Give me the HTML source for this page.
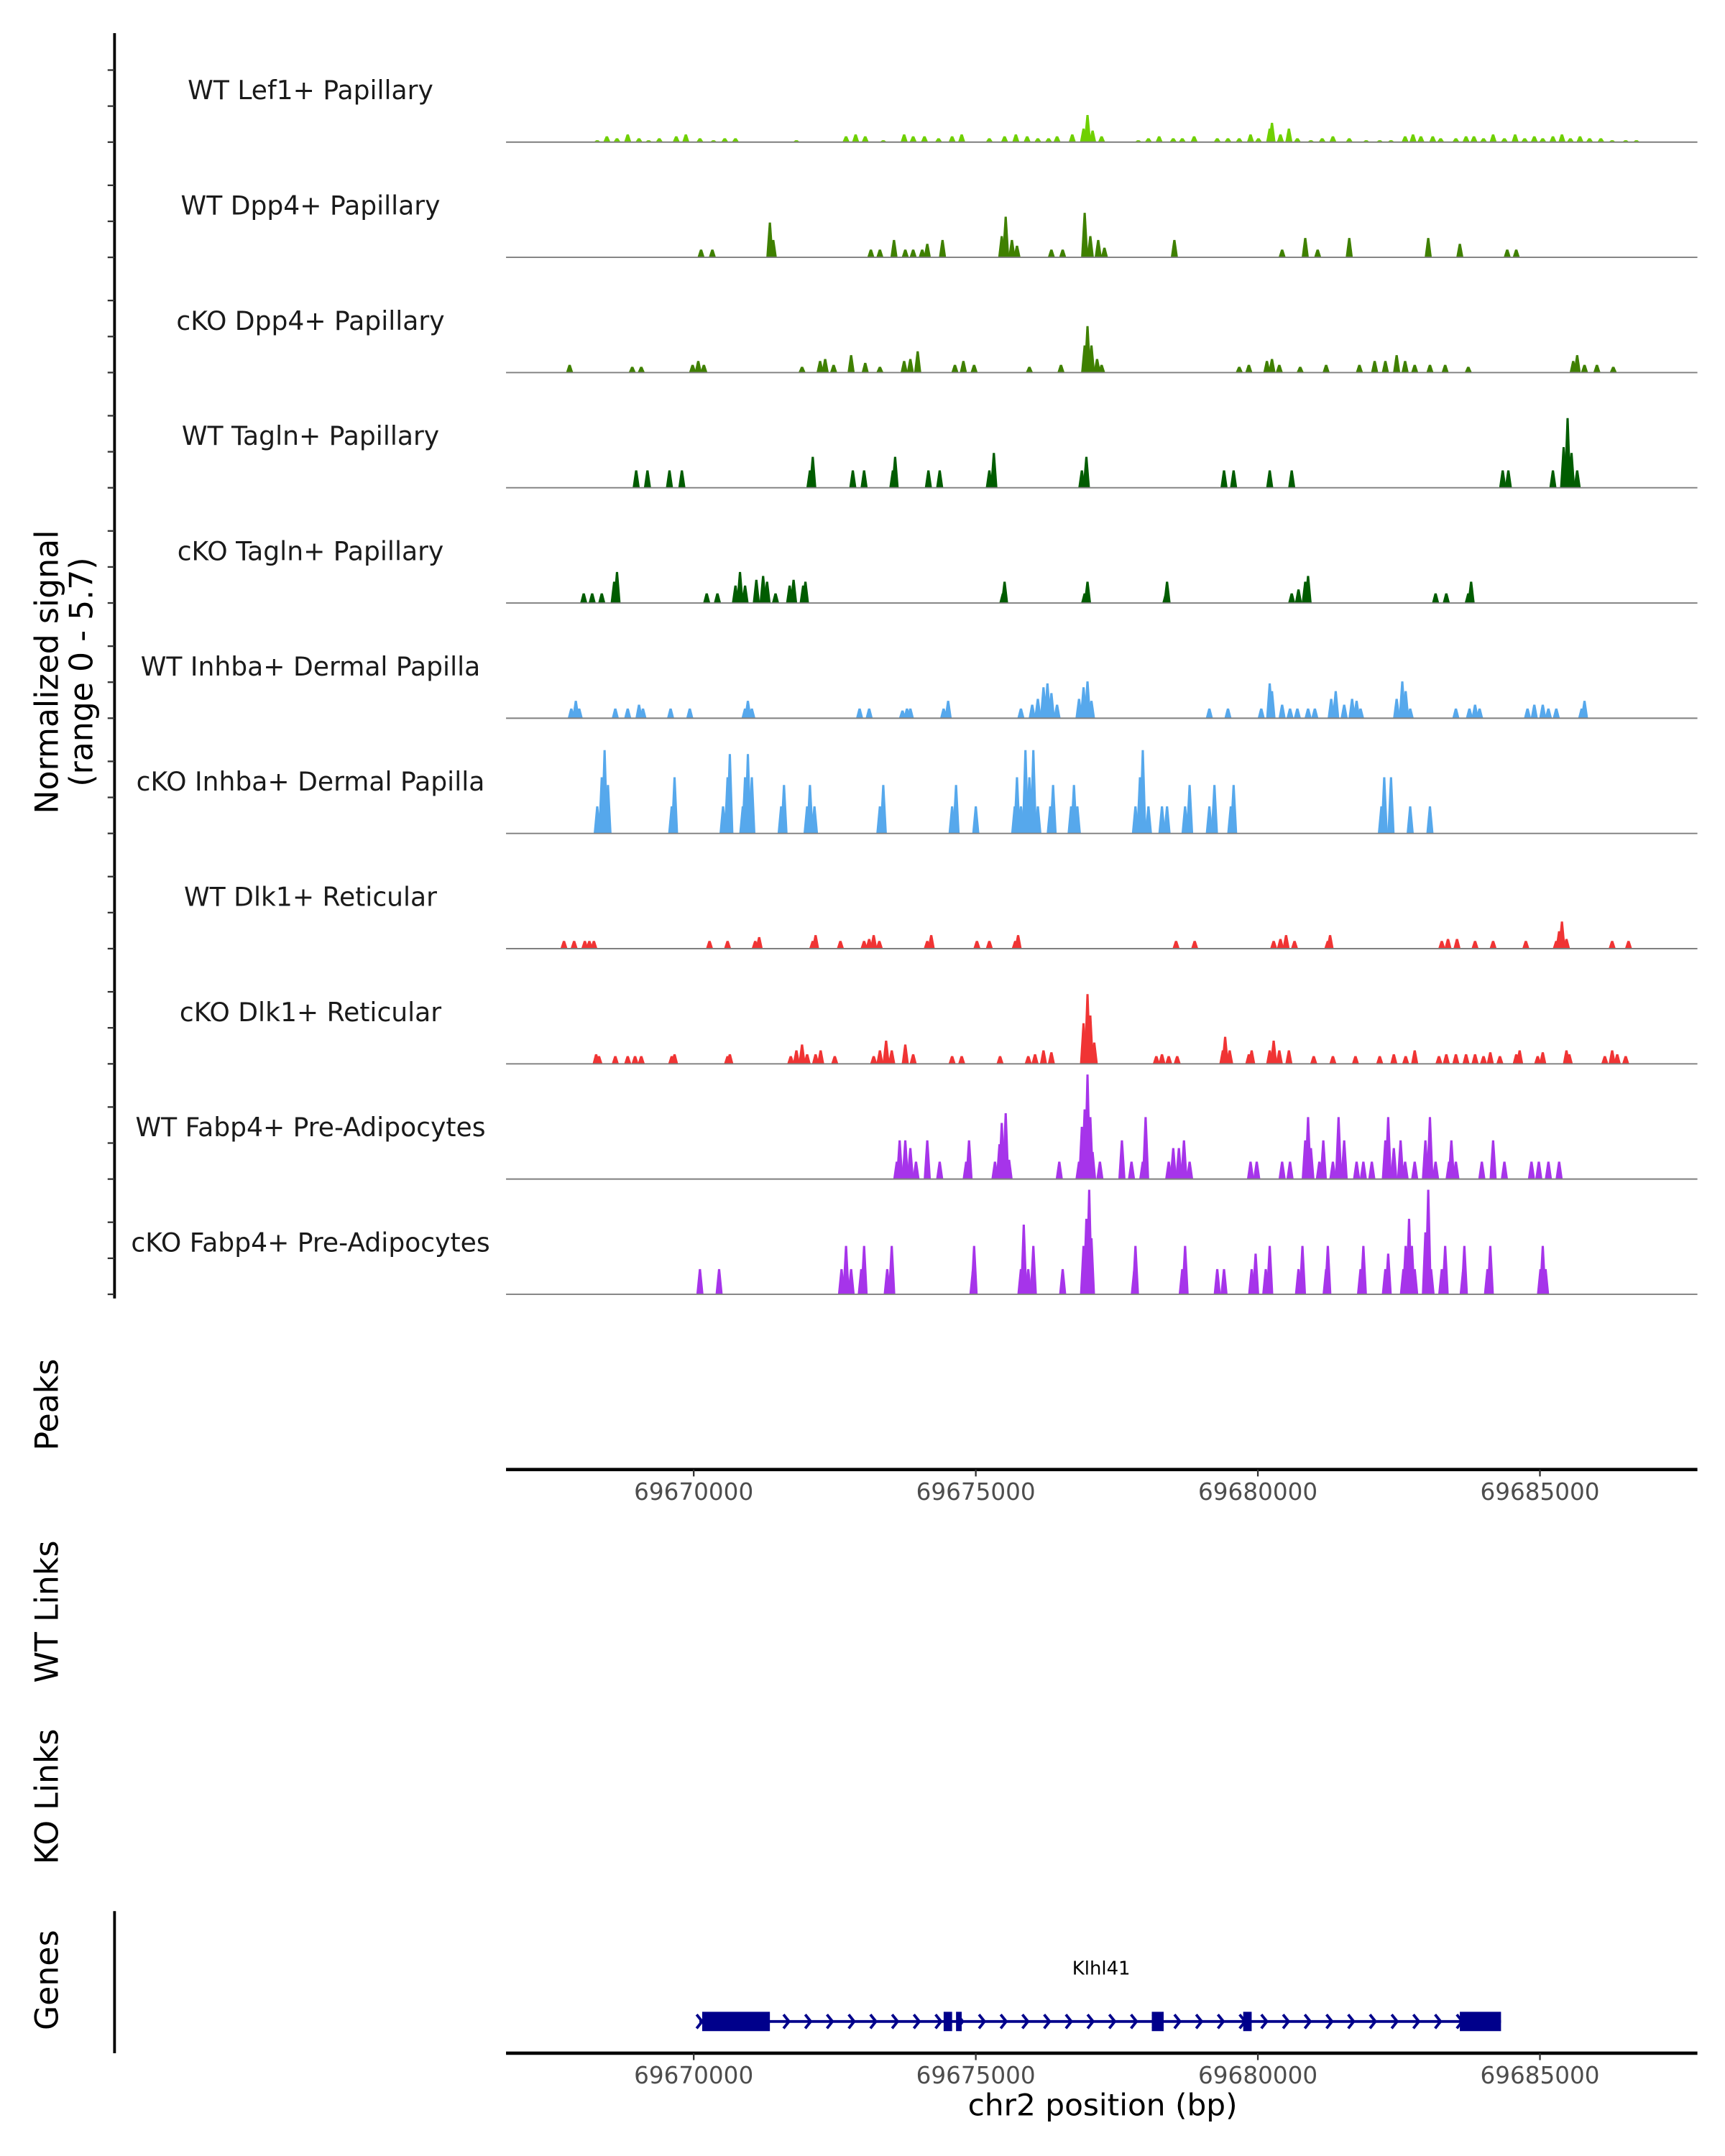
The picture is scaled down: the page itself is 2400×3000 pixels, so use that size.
<!DOCTYPE html>
<html><head><meta charset="utf-8"><style>
html,body{margin:0;padding:0;background:#fff}
svg{display:block}
text{font-family:"DejaVu Sans","Liberation Sans",sans-serif}
</style></head><body>
<svg id="fig" width="2400" height="3000" viewBox="0 0 1250 1562.5" xmlns="http://www.w3.org/2000/svg">
<rect width="1250" height="1562.5" fill="#fff"/>
<g id="tracks"></g>
<g id="left"></g>
<g id="axes"></g>
<g id="gene"></g>
</svg>
<script>
// genomic positions are kb offsets from 69,670,000; values are normalized signal (0-5.7)
const trackNames = ["WT Lef1+ Papillary","WT Dpp4+ Papillary","cKO Dpp4+ Papillary","WT Tagln+ Papillary","cKO Tagln+ Papillary","WT Inhba+ Dermal Papilla","cKO Inhba+ Dermal Papilla","WT Dlk1+ Reticular","cKO Dlk1+ Reticular","WT Fabp4+ Pre-Adipocytes","cKO Fabp4+ Pre-Adipocytes"];
const trackColors = ["#6fd000","#3f8000","#3f8000","#005c00","#005c00","#56a8ec","#56a8ec","#f03434","#f03434","#a634ea","#a634ea"];
const xTicks = [69670000,69675000,69680000,69685000];
const xTickLabels = ["69670000","69675000","69680000","69685000"];
const yMax = 5.7;
const lef1 = [[-1.71,.1],[-1.54,.3],[-1.36,.2],[-1.17,.4],[-0.97,.2],[-0.80,.1],[-0.61,.2],[-0.31,.3],[-0.14,.4],[0.11,.2],[0.35,.1],[0.55,.2],[0.74,.2],[1.82,.1],[2.70,.3],[2.87,.4],[3.04,.3],[3.36,.1],[3.73,.4],[3.89,.3],[4.09,.3],[4.34,.2],[4.58,.3],[4.75,.4],[5.24,.2],[5.51,.3],[5.71,.4],[5.91,.3],[6.10,.2],[6.29,.2],[6.44,.3],[6.71,.4],[6.91,.7],[6.98,1.4],[7.07,.6],[7.23,.3],[7.88,.1],[8.06,.2],[8.25,.3],[8.50,.2],[8.66,.2],[8.87,.3],[9.28,.2],[9.47,.2],[9.67,.2],[9.87,.4],[10.01,.2],[10.21,.7],[10.25,1.0],[10.40,.4],[10.55,.7],[10.70,.2],[10.94,.1],[11.14,.2],[11.33,.3],[11.62,.2],[11.92,.1],[12.16,.1],[12.36,.1],[12.61,.3],[12.75,.4],[12.89,.3],[13.10,.3],[13.24,.2],[13.51,.2],[13.69,.3],[13.83,.3],[14.00,.2],[14.17,.4],[14.37,.2],[14.56,.4],[14.73,.2],[14.90,.3],[15.05,.2],[15.23,.3],[15.39,.4],[15.54,.2],[15.71,.3],[15.88,.2],[16.08,.2],[16.28,.1],[16.52,.1],[16.71,.1]];
const wtDpp4 = [[0.13,.4],[0.33,.4],[1.35,1.8],[1.41,.9],[3.14,.4],[3.30,.4],[3.55,.9],[3.75,.4],[3.89,.4],[4.05,.4],[4.14,.7],[4.41,.9],[5.46,1.1],[5.53,2.1],[5.64,.9],[5.73,.6],[6.34,.4],[6.54,.4],[6.93,2.3],[7.03,1.1],[7.17,.9],[7.28,.5],[8.52,.9],[10.43,.4],[10.84,1.0],[11.06,.4],[11.62,1.0],[13.02,1.0],[13.58,.7],[14.42,.4],[14.58,.4]];
const koDpp4 = [[-2.20,.4],[-1.09,.3],[-0.93,.3],[-0.02,.4],[0.08,.6],[0.18,.4],[1.92,.3],[2.24,.6],[2.33,.7],[2.48,.4],[2.79,.9],[3.04,.5],[3.30,.3],[3.73,.6],[3.84,.7],[3.97,1.1],[4.63,.4],[4.78,.6],[4.97,.4],[5.95,.3],[6.51,.4],[6.93,1.4],[6.98,2.4],[7.05,1.4],[7.15,.7],[7.23,.4],[9.67,.3],[9.84,.4],[10.16,.6],[10.25,.7],[10.38,.4],[10.75,.3],[11.21,.4],[11.80,.4],[12.07,.6],[12.26,.6],[12.46,.9],[12.61,.6],[12.78,.4],[13.05,.4],[13.32,.4],[13.73,.3],[15.59,.6],[15.66,.9],[15.79,.4],[16.01,.4],[16.30,.3]];
const wtTagln = [[-1.02,.9],[-0.82,.9],[-0.43,.9],[-0.21,.9],[2.06,.9],[2.11,1.6],[2.82,.9],[3.02,.9],[3.53,.9],[3.57,1.6],[4.16,.9],[4.36,.9],[5.24,.9],[5.32,1.8],[6.88,.9],[6.96,1.6],[9.40,.9],[9.57,.9],[10.21,.9],[10.60,.9],[14.34,.9],[14.44,.9],[15.23,.9],[15.42,2.1],[15.49,3.6],[15.56,1.8],[15.66,.9]];
const koTagln = [[-1.95,.5],[-1.80,.5],[-1.63,.5],[-1.41,1.1],[-1.36,1.6],[0.23,.5],[0.42,.5],[0.74,.9],[0.82,1.6],[0.91,.9],[1.11,1.2],[1.23,1.4],[1.30,1.1],[1.45,.5],[1.70,.9],[1.77,1.2],[1.94,.9],[1.98,1.1],[5.48,.5],[5.51,1.1],[6.93,.5],[6.98,1.1],[8.37,.5],[8.39,1.1],[10.60,.5],[10.72,.7],[10.84,1.1],[10.89,1.4],[13.15,.5],[13.34,.5],[13.73,.5],[13.78,1.1]];
const wtInhba = [[-2.17,.5],[-2.09,.9],[-2.03,.5],[-1.39,.5],[-1.17,.5],[-0.97,.7],[-0.90,.5],[-0.41,.5],[-0.07,.5],[0.91,.5],[0.96,.9],[1.03,.5],[2.94,.5],[3.11,.5],[3.70,.4],[3.78,.5],[3.84,.5],[4.43,.5],[4.51,.9],[5.80,.5],[6.00,.7],[6.10,1.0],[6.20,1.6],[6.27,1.8],[6.34,1.3],[6.44,.7],[6.83,1.0],[6.91,1.6],[6.98,1.9],[7.05,.9],[9.14,.5],[9.47,.5],[10.06,.5],[10.21,1.8],[10.25,1.4],[10.43,.7],[10.57,.5],[10.70,.5],[10.89,.5],[11.01,.5],[11.30,1.0],[11.38,1.4],[11.53,.7],[11.67,1.0],[11.75,.9],[11.82,.5],[12.46,1.0],[12.56,1.9],[12.62,1.4],[12.70,.5],[13.51,.5],[13.75,.5],[13.85,.7],[13.93,.5],[14.78,.5],[14.90,.7],[15.05,.7],[15.15,.5],[15.29,.5],[15.74,.5],[15.79,.9]];
const koInhba = [[-1.71,1.4],[-1.63,2.9],[-1.58,4.3],[-1.52,2.5],[-0.39,1.4],[-0.34,2.9],[0.52,1.4],[0.60,2.9],[0.64,4.1],[0.87,1.4],[0.91,2.9],[0.96,4.1],[1.03,2.9],[1.55,1.4],[1.60,2.5],[2.01,1.4],[2.06,2.5],[2.14,1.4],[3.30,1.4],[3.36,2.5],[4.58,1.4],[4.65,2.5],[5.00,1.4],[5.69,1.4],[5.73,2.9],[5.80,1.4],[5.88,4.3],[5.95,2.9],[6.02,4.3],[6.10,1.4],[6.32,1.4],[6.37,2.5],[6.69,1.4],[6.74,2.5],[6.80,1.4],[7.83,1.4],[7.91,2.9],[7.96,4.3],[8.06,1.4],[8.30,1.4],[8.39,1.4],[8.71,1.4],[8.79,2.5],[9.14,1.4],[9.23,2.5],[9.52,1.4],[9.57,2.5],[12.19,1.4],[12.24,2.9],[12.36,2.9],[12.70,1.4],[13.05,1.4]];
const wtDlk1 = [[-2.30,.4],[-2.12,.4],[-1.93,.4],[-1.85,.4],[-1.77,.4],[0.28,.4],[0.60,.4],[1.09,.4],[1.16,.6],[2.11,.4],[2.16,.7],[2.60,.4],[3.02,.4],[3.11,.5],[3.19,.7],[3.29,.4],[4.14,.4],[4.21,.7],[5.02,.4],[5.24,.4],[5.70,.4],[5.75,.7],[8.55,.4],[8.88,.4],[10.28,.4],[10.40,.5],[10.50,.7],[10.65,.4],[11.24,.4],[11.28,.7],[13.26,.4],[13.37,.5],[13.53,.5],[13.85,.4],[14.17,.4],[14.75,.4],[15.29,.4],[15.34,.9],[15.39,1.4],[15.47,.5],[16.28,.4],[16.57,.4]];
const koDlk1 = [[-1.73,.5],[-1.68,.4],[-1.39,.4],[-1.17,.4],[-1.04,.4],[-0.93,.4],[-0.39,.4],[-0.34,.5],[0.60,.4],[0.64,.5],[1.72,.4],[1.82,.7],[1.92,1.0],[2.01,.5],[2.16,.5],[2.25,.7],[2.50,.4],[3.19,.4],[3.30,.7],[3.41,1.2],[3.51,.7],[3.75,1.0],[3.89,.5],[4.58,.4],[4.75,.4],[5.43,.4],[5.93,.4],[6.05,.5],[6.20,.7],[6.34,.6],[6.91,2.1],[6.98,3.6],[7.03,2.5],[7.10,1.1],[8.20,.4],[8.30,.5],[8.42,.4],[8.57,.4],[9.38,.7],[9.42,1.4],[9.50,.7],[9.84,.5],[9.89,.7],[10.21,.7],[10.28,1.2],[10.38,.7],[10.55,.7],[10.99,.4],[11.33,.4],[11.73,.4],[12.16,.4],[12.41,.5],[12.62,.4],[12.78,.7],[13.21,.4],[13.34,.5],[13.51,.5],[13.69,.5],[13.85,.5],[14.00,.4],[14.12,.6],[14.29,.4],[14.58,.5],[14.64,.7],[14.96,.4],[15.05,.6],[15.47,.7],[15.52,.5],[16.15,.4],[16.28,.7],[16.37,.5],[16.52,.4]];
const wtFabp4 = [[3.60,.9],[3.65,2.0],[3.75,2.0],[3.84,1.6],[3.94,.9],[4.14,2.0],[4.36,.9],[4.83,.9],[4.88,2.0],[5.34,.9],[5.42,1.8],[5.46,2.9],[5.53,3.4],[5.59,1.0],[6.48,.9],[6.83,.9],[6.88,2.7],[6.93,3.6],[6.98,5.4],[7.03,3.2],[7.07,1.4],[7.20,.9],[7.59,2.0],[7.76,.9],[7.96,.9],[8.01,3.2],[8.42,.9],[8.50,1.6],[8.60,1.6],[8.69,2.0],[8.79,.9],[9.87,.9],[9.98,.9],[10.43,.9],[10.57,.9],[10.84,2.0],[10.89,3.2],[10.94,1.6],[11.09,.9],[11.16,2.0],[11.33,.9],[11.43,3.2],[11.53,2.0],[11.75,.9],[11.87,.9],[12.02,.9],[12.26,2.0],[12.31,3.2],[12.41,1.6],[12.53,2.0],[12.61,.9],[12.78,.9],[12.97,2.0],[13.05,3.2],[13.15,.9],[13.39,.9],[13.43,2.0],[13.51,.9],[13.97,.9],[14.17,2.0],[14.37,.9],[14.85,.9],[14.98,.9],[15.15,.9],[15.34,.9]];
const koFabp4 = [[0.11,1.3],[0.45,1.3],[2.62,1.3],[2.70,2.5],[2.79,1.3],[2.97,1.3],[3.02,2.5],[3.43,1.3],[3.51,2.5],[4.95,1.3],[4.97,2.5],[5.80,1.3],[5.85,3.6],[5.93,1.3],[6.02,2.5],[6.54,1.3],[6.91,2.5],[6.96,3.9],[7.01,5.4],[7.05,2.9],[7.81,1.3],[7.83,2.5],[8.66,1.3],[8.71,2.5],[9.28,1.3],[9.40,1.3],[9.89,1.3],[9.96,2.1],[10.14,1.3],[10.21,2.5],[10.72,1.3],[10.79,2.5],[11.21,1.3],[11.24,2.5],[11.82,1.3],[11.87,2.5],[12.26,1.3],[12.31,2.1],[12.58,1.3],[12.62,2.5],[12.68,3.9],[12.73,2.5],[12.78,1.3],[12.97,3.2],[13.02,5.4],[13.07,1.3],[13.26,1.3],[13.32,2.5],[13.64,1.3],[13.66,2.5],[14.07,1.3],[14.12,2.5],[15.01,1.3],[15.05,2.5],[15.10,1.3]];
const trackData = [lef1,wtDpp4,koDpp4,wtTagln,koTagln,wtInhba,koInhba,wtDlk1,koDlk1,wtFabp4,koFabp4];
// gene model (kb offsets)
const geneStart = 0.10, geneEnd = 14.31;
const exonStarts = [0.15,4.43,4.65,8.12,9.74,13.58];
const exonEnds = [1.35,4.58,4.75,8.33,9.89,14.31];

const NS="http://www.w3.org/2000/svg";
const X0=366.7, X1=1226, REF=69670000, PX_PER_BP=204.4/5000, XREF=502.7;
function xScale(bp){return XREF+(bp-REF)*PX_PER_BP;}
function xKb(kb){return xScale(REF+kb*1000);}
const TRACK_TOP=103, TRACK_STEP=83.5, TRACK_H=80;
function yScale(v,base){return base-v/yMax*TRACK_H;}
function mk(tag,attrs,parent){const e=document.createElementNS(NS,tag);for(const k in attrs)e.setAttribute(k,attrs[k]);parent.appendChild(e);return e;}

const gT=document.getElementById('tracks');
trackData.forEach((arr,i)=>{
  const base=TRACK_TOP+i*TRACK_STEP;
  const g=mk('g',{},gT);
  
  
  const lab=mk('text',{x:225,y:base-31,'text-anchor':'middle','font-size':18.8,fill:'#1a1a1a'},g);
  lab.textContent=trackNames[i];
  
  
  arr.forEach(p=>{
    const cx=xKb(p[0]), y=yScale(p[1],base);
    const poly=mk('polygon',{points:`${cx-2.6},${base} ${cx-0.8},${y} ${cx+0.8},${y} ${cx+2.6},${base}`,fill:trackColors[i]},g);
    
    
  });
  const bl=mk('line',{x1:X0,x2:X1+4,y1:base,y2:base,stroke:'#7f7f7f','stroke-width':1},g);
  
  
});

const gL=document.getElementById('left');
const ax=mk('line',{x1:83,x2:83,y1:24,y2:941,stroke:'#000','stroke-width':2},gL);


for(let i=0;i<trackData.length;i++){
  const base=TRACK_TOP+i*TRACK_STEP;
  [0,2,4].forEach(v=>{
    const t=mk('line',{x1:78,x2:83,y1:yScale(v*0.93,base),y2:yScale(v*0.93,base),stroke:'#333','stroke-width':1.2},gL);
    
    
  });
}
const yt=mk('text',{transform:'translate(42,487) rotate(-90)','text-anchor':'middle','font-size':23,fill:'#000'},gL);


yt.innerHTML='<tspan x="0" dy="0">Normalized signal</tspan><tspan x="0" dy="25">(range 0 - 5.7)</tspan>';
[["Peaks",1018,"peaks-label"],["WT Links",1168,"wt-links-label"],["KO Links",1302,"ko-links-label"],["Genes",1435,"genes-label"]].forEach(d=>{
  const t=mk('text',{transform:`translate(42,${d[1]}) rotate(-90)`,'text-anchor':'middle','font-size':23,fill:'#000'},gL);
  t.textContent=d[0];
  
  
});
const gl=mk('line',{x1:83,x2:83,y1:1385,y2:1488,stroke:'#000','stroke-width':2},gL);



const gA=document.getElementById('axes');
[1065,1488].forEach((yy,k)=>{
  const l=mk('line',{x1:X0,x2:X1+4,y1:yy,y2:yy,stroke:'#000','stroke-width':2.4},gA);
  
  
  xTicks.forEach((bp,j)=>{
    const x=xScale(bp);
    const t=mk('line',{x1:x,x2:x,y1:yy,y2:yy+5,stroke:'#333','stroke-width':1.2},gA);
    
    
    const lb=mk('text',{x:x,y:yy+22,'text-anchor':'middle','font-size':17,fill:'#4d4d4d'},gA);
    lb.textContent=xTickLabels[j];
    
    
  });
});
const xt=mk('text',{x:799,y:1533,'text-anchor':'middle','font-size':22,fill:'#000'},gA);
xt.textContent='chr2 position (bp)';



const gG=document.getElementById('gene');
const GY=1465;
const gn=mk('text',{x:798,y:1431,'text-anchor':'middle','font-size':13.5,fill:'#000'},gG);
gn.textContent='Klhl41';


const gline=mk('line',{x1:xKb(geneStart),x2:xKb(geneEnd),y1:GY,y2:GY,stroke:'#00008b','stroke-width':2},gG);


for(let kb=geneStart;kb<geneEnd-0.2;kb+=0.385){
  const x=xKb(kb);
  const c=mk('polyline',{points:`${x-2},${GY-5} ${x+2},${GY} ${x-2},${GY+5}`,fill:'none',stroke:'#00008b','stroke-width':2},gG);
  
  
}
exonStarts.forEach((s,i)=>{
  const x1=xKb(s),x2=xKb(exonEnds[i]);
  const r=mk('rect',{x:x1,y:GY-7,width:Math.max(x2-x1,2.5),height:14,fill:'#00008b'},gG);
  
  
});
</script>
</body></html>
